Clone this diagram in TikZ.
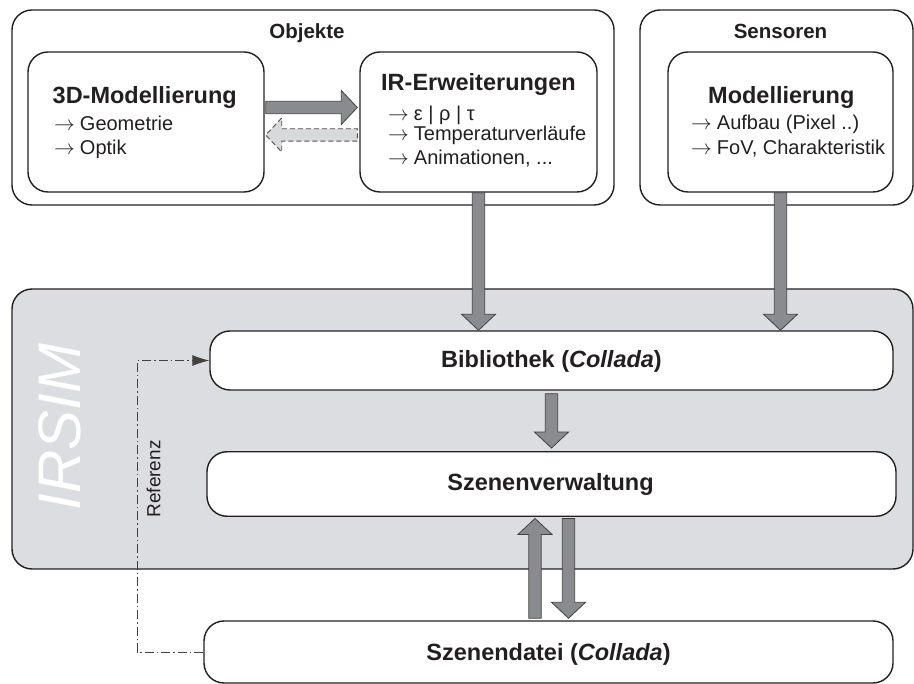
\documentclass[tikz,border=0pt]{standalone}
\usepackage{fontspec}
\setmainfont{Liberation Sans}
\usetikzlibrary{calc,arrows.meta}

\definecolor{ink}{RGB}{35,31,32}
\definecolor{panelgray}{RGB}{220,221,224}
\definecolor{flowgray}{RGB}{138,139,142}
\definecolor{backgray}{RGB}{216,217,218}

% block arrow from #2 (shaft start) to #3 (tip)
\newcommand\blockarrow[3][]{%
  \draw[blockstyle,#1] let \p1=(#2), \p2=(#3),
    \n1={veclen(\x2-\x1,\y2-\y1)},
    \n2={(\x2-\x1)/\n1}, \n3={(\y2-\y1)/\n1} in
    ({\x1-6.2pt*(\n3)},{\y1+6.2pt*(\n2)}) --
    ({\x2-16pt*(\n2)-6.2pt*(\n3)},{\y2-16pt*(\n3)+6.2pt*(\n2)}) --
    ({\x2-16pt*(\n2)-17pt*(\n3)},{\y2-16pt*(\n3)+17pt*(\n2)}) --
    (\p2) --
    ({\x2-16pt*(\n2)+17pt*(\n3)},{\y2-16pt*(\n3)-17pt*(\n2)}) --
    ({\x2-16pt*(\n2)+6.2pt*(\n3)},{\y2-16pt*(\n3)-6.2pt*(\n2)}) --
    ({\x1+6.2pt*(\n3)},{\y1-6.2pt*(\n2)}) -- cycle;}

\newcommand\tarr{{\fontsize{20}{20}\selectfont$\rightarrow$}\hspace{5pt}}

\tikzset{
  box/.style={draw=ink, line width=1.4pt, rounded corners=20pt, inner sep=0pt},
  whitebox/.style={box, fill=white},
  grouptitle/.style={font=\fontsize{20.5}{24}\selectfont\bfseries, text=ink, inner sep=0pt, anchor=base},
  boxtitle/.style={font=\fontsize{23.5}{28}\selectfont\bfseries, text=ink, inner sep=0pt},
  itemtext/.style={font=\fontsize{20}{24}\selectfont, text=ink, inner sep=0pt, anchor=base west},
  blockstyle/.style={draw=ink!85, line width=0.8pt, fill=flowgray, line join=miter},
  backstyle/.style={draw=ink!80, line width=0.9pt, fill=backgray, dash pattern=on 5pt off 3pt},
  refline/.style={draw=ink!85, line width=0.9pt, dash pattern=on 9pt off 3pt on 1.5pt off 3pt}
}

\begin{document}
\begin{tikzpicture}[x=1pt,y=-1pt]
\useasboundingbox (0,0) rectangle (914,684);

% upper groups
\node[box, minimum width=602pt, minimum height=195pt] (obj) at (313,107.5) {};
\node[box, minimum width=273pt, minimum height=195pt] (sens) at (776.5,107.5) {};
\node[grouptitle] (objT) at (307,39) {Objekte};
\node[grouptitle] (sensT) at (780.5,39) {Sensoren};

\node[box, minimum width=236pt, minimum height=140pt] (m3d) at (146,122) {};
\node[box, minimum width=237pt, minimum height=140pt] (ir) at (478.5,122) {};
\node[box, minimum width=225pt, minimum height=140pt] (sm) at (780.5,122) {};

% 3D modelling
\node[boxtitle, anchor=base west] (m3dT) at (52.5,104) {3D-Modellierung};
\node[itemtext] (m3dA) at (54,131) {\tarr Geometrie};
\node[itemtext] (m3dB) at (54,155) {\tarr Optik};

% IR extensions
\node[boxtitle, anchor=base west] (irT) at (381,91) {IR-Erweiterungen};
\node[itemtext] (irA) at (388,120.5) {\tarr ε | ρ | τ};
\node[itemtext] (irB) at (388,140.5) {\tarr Temperaturverläufe};
\node[itemtext] (irC) at (388,165) {\tarr Animationen, ...};

% sensor modelling
\node[boxtitle, anchor=base west] (smT) at (708,104) {Modellierung};
\node[itemtext] (smA) at (691,130) {\tarr Aufbau (Pixel ..)};
\node[itemtext] (smB) at (691,155) {\tarr FoV, Charakteristik};

% IRSIM panel
\node[box, fill=panelgray, minimum width=901pt, minimum height=280pt] (irsim) at (462.5,429) {};
\node[font=\fontsize{60}{60}\selectfont\itshape, text=white, rotate=90, inner sep=0pt] (irsimT) at (60,427) {IRSIM};

\node[whitebox, minimum width=683pt, minimum height=59pt] (bib) at (551.5,360.5) {};
\node[whitebox, minimum width=689pt, minimum height=64.5pt] (szen) at (551.5,484) {};
\node[whitebox, minimum width=689pt, minimum height=62pt] (szd) at (548.5,652) {};

\node[boxtitle, anchor=base] (bibT) at (551.5,368) {Bibliothek (\textit{Collada})};
\node[boxtitle, anchor=base] (szenT) at (550.5,491) {Szenenverwaltung};
\node[boxtitle, anchor=base] (szdT) at (548.5,660) {Szenendatei (\textit{Collada})};

% arrows between the modelling boxes
\blockarrow{$(m3d.east)+(1,-14.5)$}{$(ir.west)+(-2,-14.5)$}
\blockarrow[backstyle]{$(ir.west)+(-2,13)$}{$(m3d.east)+(1,13)$}

% data flow into and within IRSIM
\blockarrow{ir.south}{ir.south |- bib.north}
\blockarrow{sm.south}{sm.south |- bib.north}
\blockarrow{$(bib.south)+(0,3)$}{$(szen.north)+(0,-3)$}

\coordinate (upTip) at ($(szen.south)+(-16.5,1.5)$);
\coordinate (upBase) at ($(upTip |- szd.north)+(0,-2)$);
\coordinate (dnTop) at ($(szen.south)+(17,1.5)$);
\coordinate (dnTip) at ($(dnTop |- szd.north)+(0,-2)$);
\blockarrow{upBase}{upTip}
\blockarrow{dnTop}{dnTip}

% reference from the scene file to the library
\coordinate (refx) at (137,0);
\draw[refline, -{Latex[length=17pt,width=11pt]}] (szd.west) -- (szd.west -| refx) -- (bib.west -| refx) -- (bib.west);
\node[font=\fontsize{19}{19}\selectfont, text=ink, rotate=90, inner sep=0pt] (refT) at (153.5,479) {Referenz};
\end{tikzpicture}
\end{document}
